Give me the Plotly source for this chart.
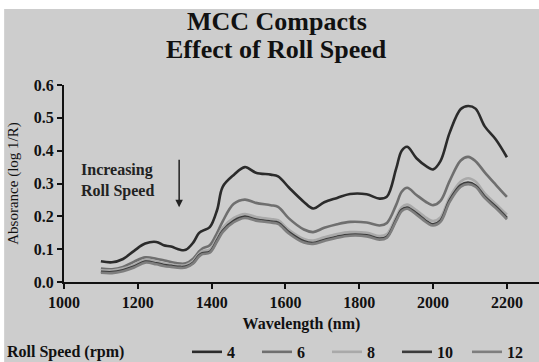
import plotly.graph_objects as go

# wavelengths (nm) shared by all spectra
wavelength = [1100, 1130, 1160, 1190, 1220, 1250, 1270, 1290, 1315, 1330, 1350, 1365, 1375, 1395,
              1415, 1430, 1460, 1490, 1520, 1560, 1580, 1610, 1650, 1675, 1705, 1740, 1775, 1820,
              1855, 1875, 1900, 1915, 1930, 1955, 1985, 2000, 2020, 2045, 2075, 2095, 2115, 2140,
              2170, 2200]

# absorbance (log 1/R) per roll speed
rpm_4 = [.063, .060, .070, .095, .117, .122, .112, .108, .098, .098, .120, .148, .156, .167,
         .220, .290, .326, .350, .333, .327, .322, .287, .244, .224, .243, .256, .268, .267,
         .254, .260, .345, .400, .412, .377, .350, .343, .368, .455, .527, .536, .528, .474,
         .434, .380]
rpm_6 = [.041, .039, .046, .062, .075, .071, .066, .061, .056, .057, .071, .092, .102, .112,
         .150, .185, .238, .251, .241, .234, .229, .193, .160, .152, .165, .176, .183, .181,
         .172, .180, .235, .275, .287, .265, .241, .234, .247, .308, .370, .381, .368, .334,
         .296, .259]
rpm_8 = [.036, .035, .041, .052, .068, .062, .057, .053, .050, .051, .064, .085, .094, .099,
         .135, .165, .195, .207, .198, .192, .188, .158, .131, .126, .136, .146, .152, .150,
         .140, .146, .198, .228, .236, .218, .193, .186, .197, .258, .306, .316, .306, .270,
         .238, .205]
rpm_10 = [.031, .030, .036, .047, .062, .057, .052, .049, .046, .047, .059, .080, .088, .092,
          .128, .156, .186, .199, .190, .184, .181, .151, .124, .119, .128, .138, .144, .142,
          .132, .138, .190, .220, .227, .209, .183, .176, .187, .249, .295, .303, .294, .260,
          .229, .195]
rpm_12 = [.028, .027, .033, .044, .059, .054, .049, .046, .043, .044, .056, .077, .085, .089,
          .124, .152, .182, .195, .187, .181, .177, .147, .120, .116, .125, .135, .141, .139,
          .129, .135, .186, .216, .223, .205, .179, .172, .183, .244, .290, .298, .290, .256,
          .225, .191]

speeds = ["4", "6", "8", "10", "12"]
series = [rpm_4, rpm_6, rpm_8, rpm_10, rpm_12]
colors = ["#2b2b2b", "#6f6f6f", "#a9a9a9", "#3c3c3c", "#7e7e7e"]

x_ticks = [1000, 1200, 1400, 1600, 1800, 2000, 2200]
y_ticks = [0.0, 0.1, 0.2, 0.3, 0.4, 0.5, 0.6]

SERIF = "Liberation Serif, Times New Roman, Times, serif"
BG = "#cdcdcd"

fig = go.Figure()
for name, vals, col in zip(speeds, series, colors):
    fig.add_trace(go.Scatter(x=wavelength, y=vals, name=name, mode="lines",
                             line=dict(color=col, width=2.6, shape="spline")))

# title, one annotation per line
fig.add_annotation(x=0.448, y=1.32, xref="paper", yref="paper", xanchor="center",
                   yanchor="middle", showarrow=False, text="<b>MCC Compacts</b>",
                   font=dict(family=SERIF, size=26, color="#111"))
fig.add_annotation(x=0.448, y=1.178, xref="paper", yref="paper", xanchor="center",
                   yanchor="middle", showarrow=False, text="<b>Effect of Roll Speed</b>",
                   font=dict(family=SERIF, size=26, color="#111"))

# arrow + label
fig.add_annotation(x=1312, y=0.228, ax=1312, ay=0.377, axref="x", ayref="y",
                   xref="x", yref="y", text="", showarrow=True,
                   arrowhead=2, arrowsize=1, arrowwidth=1.5, arrowcolor="#222")
fig.add_annotation(x=1145, y=0.31, xref="x", yref="y", showarrow=False,
                   text="<b>Increasing<br>Roll Speed</b>", align="left",
                   font=dict(family=SERIF, size=16, color="#222"))

# legend title at far left
fig.add_annotation(x=-0.124, y=-0.355, xref="paper", yref="paper", xanchor="left",
                   yanchor="middle", showarrow=False, text="<b>Roll Speed (rpm)</b>",
                   font=dict(family=SERIF, size=16, color="#111"))

# white strips at top / left edge of the picture
fig.add_shape(type="rect", xref="paper", yref="paper", x0=-0.2, x1=1.1, y0=1.386, y1=1.5,
              fillcolor="white", line_width=0, layer="below")
fig.add_shape(type="rect", xref="paper", yref="paper", x0=-0.2, x1=-0.126, y0=-0.5, y1=1.5,
              fillcolor="white", line_width=0, layer="below")

fig.update_layout(
    width=539, height=362,
    margin=dict(l=64, r=0, t=85, b=80, autoexpand=False),
    paper_bgcolor=BG, plot_bgcolor=BG,
    font=dict(family=SERIF, color="#111"),
    legend=dict(orientation="h", x=0.259, xanchor="left", y=-0.355, yanchor="middle",
                entrywidth=25, entrywidthmode="pixels", itemwidth=30,
                bgcolor="rgba(0,0,0,0)", font=dict(family=SERIF, size=16, color="#111",
                                                     weight="bold"),
                tracegroupgap=0),
    xaxis=dict(range=[1000, 2287], tickvals=x_ticks, ticks="outside", ticklen=5,
               tickwidth=2, tickcolor="#111", showline=True, linecolor="#111", linewidth=2,
               showgrid=False, zeroline=False,
               tickfont=dict(family=SERIF, size=16, color="#111", weight="bold"),
               title=dict(text="<b>Wavelength (nm)</b>", standoff=8,
                          font=dict(family=SERIF, size=16, color="#111"))),
    yaxis=dict(range=[0, 0.6], tickvals=y_ticks, tickformat=".1f", ticks="outside", ticklen=5,
               tickwidth=2, tickcolor="#111", showline=True, linecolor="#111", linewidth=2,
               showgrid=False, zeroline=False,
               tickfont=dict(family=SERIF, size=16, color="#111", weight="bold"),
               title=dict(text="Absorance (log 1/R)", standoff=12,
                          font=dict(family=SERIF, size=15, color="#111"))),
)

fig.write_html("out.html", config={"displayModeBar": False},
               post_script="document.body.style.margin='0';")
